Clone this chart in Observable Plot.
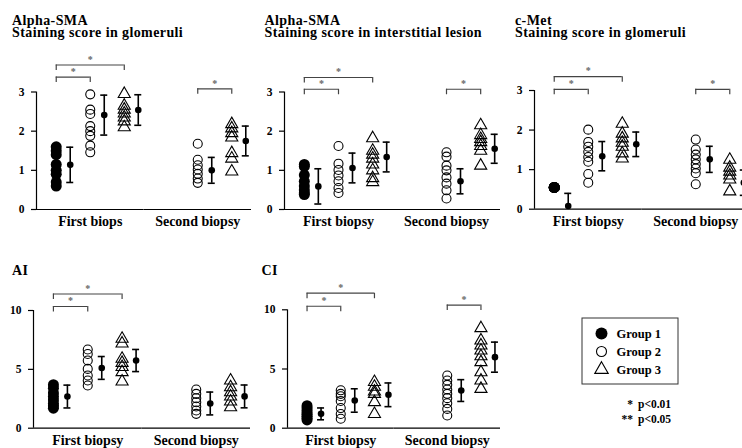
<!DOCTYPE html>
<html><head><meta charset="utf-8">
<script src="https://cdn.jsdelivr.net/npm/d3@7"></script>
<script src="https://cdn.jsdelivr.net/npm/@observablehq/plot@0.6"></script>
<style>
html,body{margin:0;padding:0;background:#fff;}
body{width:742px;height:448px;position:relative;overflow:hidden;font-family:"Liberation Serif","Times New Roman",serif;font-weight:bold;color:#000;}
.panel{position:absolute;}
.panel svg, .panel svg text{font-family:"Liberation Serif","Times New Roman",serif !important;font-weight:bold;}
.title{position:absolute;font-size:14px;line-height:12.3px;letter-spacing:0.4px;white-space:nowrap;}
.note{position:absolute;font-size:11.5px;white-space:nowrap;line-height:14px;}
</style></head><body>
<script>
const biopsies = ["First biopsy", "Second biopsy"];
const groups = ["Group 1", "Group 2", "Group 3"];

// Alpha-SMA, staining score in glomeruli
const smaGlomFirst = [[1.6, 1.5, 1.4, 1.15, 1.0, 0.9, 0.7, 0.6], [2.94, 2.55, 2.44, 2.13, 2.0, 1.88, 1.63, 1.46], [2.95, 2.65, 2.55, 2.45, 2.35, 2.25, 2.1]];
const smaGlomSecond = [[], [1.68, 1.27, 1.13, 1.02, 0.91, 0.79, 0.68], [2.18, 2.07, 1.95, 1.84, 1.44, 1.3, 0.97]];
const smaGlomMean = [[1.14, 2.41, 2.54], [null, 1.0, 1.75]];
const smaGlomSD = [[0.45, 0.51, 0.39], [null, 0.33, 0.38]];
const smaGlomSig = [["First biopsy", "Group 1", "Group 2", 3.38], ["First biopsy", "Group 1", "Group 3", 3.69], ["Second biopsy", "Group 2", "Group 3", 3.08]];

// Alpha-SMA, staining score in interstitial lesion
const smaIntFirst = [[1.15, 1.1, 0.88, 0.72, 0.6, 0.5, 0.42, 0.38], [1.62, 1.17, 1.01, 0.87, 0.72, 0.55, 0.42], [1.82, 1.5, 1.4, 1.3, 1.15, 1.0, 0.8, 0.7]];
const smaIntSecond = [[], [1.46, 1.35, 1.12, 1.0, 0.82, 0.66, 0.49, 0.28], [2.15, 1.9, 1.8, 1.72, 1.62, 1.5, 1.12]];
const smaIntMean = [[0.59, 1.06, 1.34], [null, 0.72, 1.55]];
const smaIntSD = [[0.45, 0.38, 0.38], [null, 0.32, 0.37]];
const smaIntSig = [["First biopsy", "Group 1", "Group 2", 3.07], ["First biopsy", "Group 1", "Group 3", 3.37], ["Second biopsy", "Group 2", "Group 3", 3.07]];

// c-Met, staining score in glomeruli
const cmetFirst = [[0.55, 0.55, 0.55, 0.55, 0.55, 0.55], [2.01, 1.70, 1.58, 1.45, 1.32, 1.2, 0.89, 0.67], [2.16, 1.91, 1.79, 1.68, 1.58, 1.41, 1.28]];
const cmetSecond = [[], [1.76, 1.51, 1.38, 1.26, 1.14, 1.03, 0.91, 0.63], [1.25, 1.05, 0.95, 0.85, 0.75, 0.45]];
const cmetMean = [[0.08, 1.34, 1.64], [null, 1.26, 0.67]];
const cmetSD = [[0.32, 0.37, 0.31], [null, 0.33, 0.32]];
const cmetSig = [["First biopsy", "Group 1", "Group 2", 3.03], ["First biopsy", "Group 1", "Group 3", 3.35], ["Second biopsy", "Group 2", "Group 3", 3.03]];

// AI
const aiFirst = [[3.7, 3.4, 3.0, 2.7, 2.4, 2.1, 1.9, 1.7], [6.69, 6.3, 5.75, 5.04, 4.48, 4.05, 3.63], [7.6, 7.2, 5.9, 5.55, 5.2, 4.76, 3.97]];
const aiSecond = [[], [3.29, 2.92, 2.55, 2.21, 1.84, 1.5, 1.22], [4.05, 3.48, 3.06, 2.69, 2.27, 1.78]];
const aiMean = [[2.69, 5.12, 5.75], [null, 2.1, 2.7]];
const aiSD = [[0.97, 0.97, 0.94], [null, 0.97, 0.97]];
const aiSig = [["First biopsy", "Group 1", "Group 2", 10.34], ["First biopsy", "Group 1", "Group 3", 11.4]];

// CI
const ciFirst = [[1.9, 1.7, 1.5, 1.3, 1.15, 1.0, 0.85, 0.7], [3.2, 2.9, 2.7, 2.3, 1.7, 1.2, 0.8], [3.9, 3.5, 3.1, 2.9, 2.2, 1.2]];
const ciSecond = [[], [4.45, 4.03, 3.66, 3.27, 2.9, 2.54, 2.11, 1.63, 1.07], [8.45, 7.41, 6.99, 6.56, 6.08, 5.58, 4.73, 4.03, 3.32]];
const ciMean = [[1.21, 2.34, 2.82], [null, 3.18, 6.0]];
const ciSD = [[0.5, 0.99, 1.0], [null, 0.92, 1.27]];
const ciSig = [["First biopsy", "Group 1", "Group 2", 10.3], ["First biopsy", "Group 1", "Group 3", 11.4], ["Second biopsy", "Group 2", "Group 3", 10.4]];

const scoreTicks = [0, 1, 2, 3];
const indexTicks = [0, 5, 10];
const panelTitles = [["Alpha-SMA", "Staining score in glomeruli"], ["Alpha-SMA", "Staining score in interstitial lesion"], ["c-Met", "Staining score in glomeruli"], ["AI"], ["CI"]];
const xLabelsTop1 = ["First biops", "Second biopsy"];
const xLabels = ["First biopsy", "Second biopsy"];
const legendLabels = ["Group 1", "Group 2", "Group 3"];
const pNotes = [["*", "p<0.01"], ["**", "p<0.05"]];

function drawPanel(cfg) {
  const {first, second, mean, sd, sig, ticks, labels, left, top, width, height, mL, mR, mT, mB, title, titleLeft, titleTop} = cfg;
  const points = [];
  [first, second].forEach((arr, bi) => arr.forEach((vals, gi) => vals.forEach(v => points.push({biopsy: biopsies[bi], group: groups[gi], value: v}))));
  const stats = [];
  mean.forEach((row, bi) => row.forEach((m, gi) => { if (m != null) stats.push({biopsy: biopsies[bi], group: groups[gi], mean: m, sd: sd[bi][gi]}); }));
  const sigRows = sig.map(([b, a, c, level]) => ({biopsy: b, a, c, level, ia: groups.indexOf(a), ic: groups.indexOf(c)}));
  const ends = sigRows.flatMap(s => [{biopsy: s.biopsy, group: s.a, level: s.level}, {biopsy: s.biopsy, group: s.c, level: s.level}]);
  const adj = sigRows.filter(s => Math.abs(s.ic - s.ia) % 2 === 1);
  const wide = sigRows.filter(s => Math.abs(s.ic - s.ia) % 2 === 0).map(s => ({...s, mid: groups[(s.ia + s.ic) / 2]}));
  const pad = 0.58;
  const facetW = (width - mL - mR) / biopsies.length;
  const step = facetW / (groups.length - 1 + 2 * pad);
  const off = 14;
  const yMax = ticks[ticks.length - 1];
  const axisW = 1.2, barW = 1.6, sigColor = "#444";
  const capHi = stats.map(d => ({...d, cap: d.mean + d.sd}));
  const capLo = stats.filter(d => d.mean - d.sd > 0).map(d => ({...d, cap: d.mean - d.sd}));

  const plot = Plot.plot({
    width, height, marginLeft: mL, marginRight: mR, marginTop: mT, marginBottom: mB,
    style: {background: "transparent", overflow: "visible", color: "black"},
    fx: {domain: biopsies, padding: 0, round: false},
    x: {domain: groups, type: "point", padding: pad, round: false, axis: null},
    y: {domain: [0, yMax]},
    marks: [
      Plot.axisY({ticks, tickSize: 5, tickPadding: 7, fontSize: 11.5, label: null, strokeWidth: axisW, tickFormat: d => String(d)}),
      Plot.axisFx({anchor: "bottom", tickSize: 0, tickPadding: 7, fontSize: 14, label: null, tickFormat: d => labels[biopsies.indexOf(d)]}),
      Plot.ruleY([0], {strokeWidth: axisW}),
      Plot.ruleX([biopsies[0]], {fx: d => d, x: () => groups[0], y1: 0, y2: yMax, dx: -pad * step, strokeWidth: axisW}),
      Plot.dot(points, {filter: d => d.group === groups[0], fx: "biopsy", x: "group", y: "value", r: 5.5, fill: "black", stroke: "none"}),
      Plot.dot(points, {filter: d => d.group === groups[1], fx: "biopsy", x: "group", y: "value", r: 4.5, fill: "none", stroke: "black", strokeWidth: 1.1}),
      Plot.dot(points, {filter: d => d.group === groups[2], fx: "biopsy", x: "group", y: "value", r: 4.5, symbol: "triangle", fill: "none", stroke: "black", strokeWidth: 1.1}),
      Plot.ruleX(stats, {fx: "biopsy", x: "group", y1: d => Math.max(0, d.mean - d.sd), y2: d => d.mean + d.sd, dx: off, strokeWidth: barW}),
      Plot.ruleY(capHi, {fx: "biopsy", x1: "group", x2: "group", y: "cap", dx: off, insetLeft: -3.5, insetRight: -3.5, strokeWidth: barW}),
      Plot.ruleY(capLo, {fx: "biopsy", x1: "group", x2: "group", y: "cap", dx: off, insetLeft: -3.5, insetRight: -3.5, strokeWidth: barW}),
      Plot.dot(stats, {fx: "biopsy", x: "group", y: "mean", dx: off, r: 3.3, fill: "black"}),
      Plot.ruleY(sigRows, {fx: "biopsy", x1: "a", x2: "c", y: "level", stroke: sigColor, strokeWidth: 1.2}),
      Plot.ruleX(ends, {fx: "biopsy", x: "group", y1: "level", y2: "level", insetBottom: -5.5, stroke: sigColor, strokeWidth: 1.2}),
      Plot.text(adj, {fx: "biopsy", x: "a", y: "level", text: () => "*", dx: step / 2, dy: -5.5, fill: "#666", fontSize: 10, fontWeight: "normal"}),
      Plot.text(wide, {fx: "biopsy", x: "mid", y: "level", text: () => "*", dy: -5.5, fill: "#666", fontSize: 10, fontWeight: "normal"})
    ]
  });
  const div = document.createElement("div");
  div.className = "panel";
  div.style.left = left + "px"; div.style.top = top + "px"; div.style.width = width + "px"; div.style.height = height + "px";
  div.appendChild(plot);
  document.body.appendChild(div);
  const t = document.createElement("div");
  t.className = "title";
  t.style.left = titleLeft + "px"; t.style.top = titleTop + "px";
  t.innerHTML = title.join("<br>");
  document.body.appendChild(t);
}

drawPanel({first: smaGlomFirst, second: smaGlomSecond, mean: smaGlomMean, sd: smaGlomSD, sig: smaGlomSig, ticks: scoreTicks, labels: xLabelsTop1,
  left: 0, top: 0, width: 251, height: 230, mL: 36, mR: 0, mT: 91.5, mB: 21, title: panelTitles[0], titleLeft: 12, titleTop: 15});
drawPanel({first: smaIntFirst, second: smaIntSecond, mean: smaIntMean, sd: smaIntSD, sig: smaIntSig, ticks: scoreTicks, labels: xLabels,
  left: 250, top: 0, width: 250, height: 230, mL: 34, mR: 0, mT: 91.5, mB: 21, title: panelTitles[1], titleLeft: 264.5, titleTop: 15});
drawPanel({first: cmetFirst, second: cmetSecond, mean: cmetMean, sd: cmetSD, sig: cmetSig, ticks: scoreTicks, labels: xLabels,
  left: 500, top: 0, width: 249, height: 230, mL: 34, mR: 0, mT: 90, mB: 21.3, title: panelTitles[2], titleLeft: 515, titleTop: 15});
drawPanel({first: aiFirst, second: aiSecond, mean: aiMean, sd: aiSD, sig: aiSig, ticks: indexTicks, labels: xLabels,
  left: 0, top: 225, width: 250, height: 223, mL: 33, mR: 0, mT: 85, mB: 20.3, title: panelTitles[3], titleLeft: 12, titleTop: 265});
drawPanel({first: ciFirst, second: ciSecond, mean: ciMean, sd: ciSD, sig: ciSig, ticks: indexTicks, labels: xLabels,
  left: 250, top: 225, width: 250, height: 223, mL: 37, mR: 0, mT: 84.3, mB: 20.3, title: panelTitles[4], titleLeft: 261.5, titleTop: 265});

// Legend
const legend = Plot.plot({
  width: 97, height: 67, margin: 0,
  style: {background: "white", overflow: "visible"},
  y: {type: "point", domain: legendLabels, range: [15.5, 53], padding: 0, axis: null},
  marks: [
    Plot.frame({inset: 0.5, stroke: "#333"}),
    Plot.dot([legendLabels[0]], {y: d => d, frameAnchor: "left", dx: 20, r: 6, fill: "black"}),
    Plot.dot([legendLabels[1]], {y: d => d, frameAnchor: "left", dx: 20, r: 5, fill: "none", stroke: "black", strokeWidth: 1.1}),
    Plot.dot([legendLabels[2]], {y: d => d, frameAnchor: "left", dx: 20, r: 5, symbol: "triangle", fill: "none", stroke: "black", strokeWidth: 1.1}),
    Plot.text(legendLabels, {y: d => d, text: d => d, frameAnchor: "left", dx: 35, textAnchor: "start", fontSize: 12.5})
  ]
});
const lg = document.createElement("div");
lg.className = "panel";
lg.style.left = "581px"; lg.style.top = "317px";
lg.appendChild(legend);
document.body.appendChild(lg);

pNotes.forEach(([star, text], i) => {
  const s = document.createElement("div");
  s.className = "note";
  s.style.right = (742 - 633) + "px"; s.style.top = (397 + i * 15) + "px";
  s.textContent = star;
  document.body.appendChild(s);
  const p = document.createElement("div");
  p.className = "note";
  p.style.left = "638px"; p.style.top = (397 + i * 15) + "px";
  p.textContent = text;
  document.body.appendChild(p);
});
</script>
</body></html>
